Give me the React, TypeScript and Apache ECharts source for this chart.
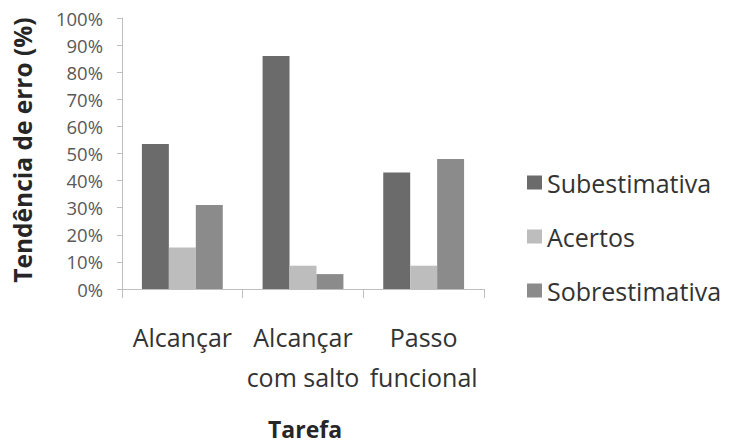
import React, { useEffect, useRef } from "react";
import * as echarts from "echarts";

// Task categories (wrapped onto two lines like the axis shows them)
const categories = ["Alcançar", "Alcançar\ncom salto", "Passo\nfuncional"];
// Error tendency per task, in percent
const subestimativa = [53.5, 86, 43];
const acertos = [15.3, 8.6, 8.6];
const sobrestimativa = [31, 5.5, 48];
const seriesNames = ["Subestimativa", "Acertos", "Sobrestimativa"];
const yTicks = { min: 0, max: 100, interval: 10 };

const FONT = "'Open Sans', 'Noto Sans', sans-serif";
const COLORS = ["#6b6b6b", "#bdbdbd", "#8b8b8b"];

export default function App() {
  const ref = useRef<HTMLDivElement>(null);

  useEffect(() => {
    if (!ref.current) return;
    const chart = echarts.init(ref.current, undefined, { renderer: "svg" });
    const values = [subestimativa, acertos, sobrestimativa];
    chart.setOption({
      animation: false,
      backgroundColor: "#ffffff",
      textStyle: { fontFamily: FONT },
      grid: { left: 122, right: 247, top: 18, bottom: 155 },
      legend: {
        orient: "vertical",
        left: 522,
        top: 165,
        itemWidth: 15,
        itemHeight: 14,
        itemGap: 29,
        icon: "rect",
        data: seriesNames,
        textStyle: { fontFamily: FONT, fontSize: 25, color: "#333333", padding: [0, 0, 0, 0] },
      },
      xAxis: {
        type: "category",
        data: categories,
        axisLine: { lineStyle: { color: "#bfbfbf", width: 1 } },
        axisTick: { show: true, length: 9, lineStyle: { color: "#bfbfbf" } },
        axisLabel: {
          interval: 0,
          margin: 28,
          fontFamily: FONT,
          fontSize: 25,
          lineHeight: 40,
          color: "#333333",
        },
      },
      yAxis: {
        type: "value",
        min: yTicks.min,
        max: yTicks.max,
        interval: yTicks.interval,
        splitLine: { show: false },
        axisLine: { show: true, lineStyle: { color: "#bfbfbf", width: 1 } },
        axisTick: { show: true, length: 5, lineStyle: { color: "#bfbfbf" } },
        axisLabel: {
          formatter: "{value}%",
          margin: 19,
          fontFamily: FONT,
          fontSize: 18.5,
          color: "#595959",
        },
      },
      graphic: [
        {
          type: "text",
          x: 22,
          y: 150,
          rotation: Math.PI / 2,
          style: {
            text: "Tendência de erro (%)",
            fontFamily: FONT,
            fontSize: 24.5,
            fontWeight: "bold",
            fill: "#262626",
            textAlign: "center",
            textVerticalAlign: "middle",
          },
        },
        {
          type: "text",
          x: 305,
          y: 429,
          style: {
            text: "Tarefa",
            fontFamily: FONT,
            fontSize: 23,
            fontWeight: "bold",
            fill: "#262626",
            textAlign: "center",
            textVerticalAlign: "middle",
          },
        },
      ],
      series: seriesNames.map((name, i) => ({
        name,
        type: "bar",
        data: values[i],
        barGap: "0%",
        barCategoryGap: "33%",
        itemStyle: { color: COLORS[i] },
      })),
    });
    return () => chart.dispose();
  }, []);

  return (
    <div
      ref={ref}
      style={{ position: "fixed", left: 0, top: 0, width: 731, height: 444 }}
    />
  );
}
